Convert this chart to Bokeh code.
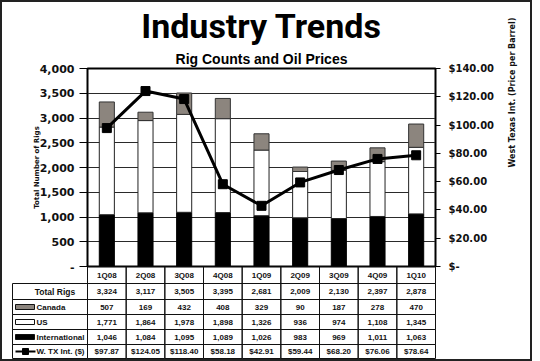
import numpy as np
from bokeh.plotting import figure
from bokeh.models import Range1d, LinearAxis, FixedTicker, NumeralTickFormatter, ColumnDataSource, Title
from bokeh.layouts import column
from bokeh.embed import file_html
from bokeh.resources import INLINE
from bokeh.core.properties import value

# ---------------- data ----------------
quarters = ["1Q08", "2Q08", "3Q08", "4Q08", "1Q09", "2Q09", "3Q09", "4Q09", "1Q10"]
international = [1046, 1084, 1095, 1089, 1026, 983, 969, 1011, 1063]
us = [1771, 1864, 1978, 1898, 1326, 936, 974, 1108, 1345]
canada = [507, 169, 432, 408, 329, 90, 187, 278, 470]
total_rigs = [3324, 3117, 3505, 3395, 2681, 2009, 2130, 2397, 2878]
wti = [97.87, 124.05, 118.40, 58.18, 42.91, 59.44, 68.20, 76.06, 78.64]
rig_ticks = [0, 500, 1000, 1500, 2000, 2500, 3000, 3500, 4000]
price_ticks = [0, 20, 40, 60, 80, 100, 120, 140]
row_labels = ["Total Rigs", "Canada", "US", "International", "W. TX Int. ($)"]

# ---------------- layout constants ----------------
W = 528
PL, PR = 85, 95
PT, PH, PB = 60, 196, 8
TH = 93
N = len(quarters)
GRAY = "#8c857e"
AXFONT = "DejaVu Sans"
TITLEFONT = "Roboto"
TABFONT = "Liberation Sans"


def try_set(obj, **kw):
    for k, v in kw.items():
        try:
            setattr(obj, k, v)
        except (AttributeError, ValueError):
            pass


x = list(range(N))
src = ColumnDataSource(dict(x=x, international=international, us=us, canada=canada, wti=wti))

# ---------------- main chart ----------------
# (the column layout shrinks this figure by the table's negative top margin)
p = figure(width=W, height=PT + PH + PB + PB, x_range=Range1d(-0.5, N - 0.5), y_range=Range1d(0, 4000),
           output_backend="svg", toolbar_location=None, x_axis_location=None,
           min_border_left=PL, min_border_right=PR, min_border_top=PT, min_border_bottom=PB)
try_set(p, frame_align=False)
p.outline_line_color = "black"
p.outline_line_width = 2
p.xgrid.visible = False
p.ygrid.ticker = FixedTicker(ticks=rig_ticks)
p.ygrid.grid_line_color = "#2a2a2a"
p.ygrid.grid_line_width = 1

p.add_layout(Title(text="Rig Counts and Oil Prices", align="center", text_font="Liberation Sans",
                   text_font_style="bold", text_font_size="14px", text_color="black",
                   standoff=4, offset=-5), "above")
p.add_layout(Title(text="Industry Trends", align="center", text_font=TITLEFONT,
                   text_font_style="bold", text_font_size="34px", text_color="black",
                   standoff=2, offset=-4), "above")

ya = p.yaxis[0]
ya.ticker = FixedTicker(ticks=rig_ticks)
ya.formatter = NumeralTickFormatter(format="0,0")
ya.major_label_overrides = {0: "-"}
ya.major_tick_out = 8
ya.major_tick_in = 0
ya.minor_tick_line_color = None
ya.axis_line_color = "black"
ya.major_label_standoff = 5
ya.major_label_text_font = AXFONT
ya.major_label_text_font_style = "bold"
ya.major_label_text_font_size = "11px"
ya.major_label_text_color = "#111"
ya.axis_label = "Total Number of Rigs"
ya.axis_label_standoff = -4
ya.axis_label_text_font = AXFONT
ya.axis_label_text_font_style = "bold"
ya.axis_label_text_font_size = "7px"
ya.axis_label_text_color = "#111"

p.extra_y_ranges = {"price": Range1d(0, 140)}
ra = LinearAxis(y_range_name="price", ticker=FixedTicker(ticks=price_ticks),
                formatter=NumeralTickFormatter(format="$0.00"))
ra.major_label_overrides = {0: "$-"}
ra.major_tick_out = 5
ra.major_tick_in = 0
ra.minor_tick_line_color = None
ra.axis_line_color = "black"
ra.major_label_standoff = 8
ra.major_label_text_font = AXFONT
ra.major_label_text_font_style = "bold"
ra.major_label_text_font_size = "10px"
ra.major_label_text_color = "#111"
ra.axis_label = "West Texas Int. (Price per Barrel)"
ra.axis_label_standoff = 15
ra.axis_label_text_font = AXFONT
ra.axis_label_text_font_style = "bold"
ra.axis_label_text_font_size = "8px"
ra.axis_label_text_color = "#111"
try_set(ra, axis_label_orientation=float(np.pi / 2))
p.add_layout(ra, "right")

p.vbar_stack(["international", "us", "canada"], x="x", width=0.39, source=src,
             fill_color=["black", "white", GRAY], line_color=["black", "#222", "#333"], line_width=1)
p.line("x", "wti", source=src, y_range_name="price", line_color="black", line_width=3)
p.scatter("x", "wti", source=src, y_range_name="price", marker="square", size=9,
          fill_color="black", line_color="black")

# ---------------- data table ----------------
PPU = (W - PL - PR) / N
xs0 = -0.5 - PL / PPU
xs1 = N - 0.5 + PR / PPU
t = figure(width=W, height=TH, x_range=Range1d(xs0, xs1), y_range=Range1d(TH, 0),
           output_backend="svg", toolbar_location=None, x_axis_location=None, y_axis_location=None,
           min_border=0, min_border_left=0, min_border_right=0, min_border_top=0, min_border_bottom=0,
           background_fill_color=None, border_fill_color=None,
           outline_line_color=None, margin=(-PB, 0, 0, 0))
try_set(t, frame_align=False)
t.grid.visible = False


def tx(px):
    return xs0 + px / PPU


row_top = [0, 17, 33, 48, 63, 78]
row_bot = [17, 33, 48, 63, 78, 92]
mid = [(a + b) / 2 for a, b in zip(row_top, row_bot)]

cl, cr, ct, cb = [], [], [], []
for r in range(6):
    for i in range(N):
        cl.append(i - 0.5); cr.append(i + 0.5); ct.append(row_top[r]); cb.append(row_bot[r])
for r in range(1, 6):
    cl.append(tx(10)); cr.append(-0.5); ct.append(row_top[r]); cb.append(row_bot[r])
t.quad(left=cl, right=cr, top=ct, bottom=cb, fill_color=None, line_color="#111", line_width=1)

rows_text = [quarters,
             [f"{v:,}" for v in total_rigs],
             [f"{v:,}" for v in canada],
             [f"{v:,}" for v in us],
             [f"{v:,}" for v in international],
             [f"${v:.2f}" for v in wti]]
txt_x, txt_y, txt = [], [], []
for r, vals in enumerate(rows_text):
    for i, s in enumerate(vals):
        txt_x.append(i); txt_y.append(mid[r]); txt.append(s)
t.text(x=txt_x, y=txt_y, text=txt, text_align="center", text_baseline="middle",
       text_font=value(TABFONT), text_font_style="bold", text_font_size="8px", text_color="#111")

t.text(x=[tx(52.5)], y=[mid[1]], text=[row_labels[0]], text_align="center", text_baseline="middle",
       text_font=value(TABFONT), text_font_style="bold", text_font_size="8.5px", text_color="#111")
t.text(x=[tx(34)] * 4, y=mid[2:6], text=row_labels[1:], text_align="left", text_baseline="middle",
       text_font=value(TABFONT), text_font_style="bold", text_font_size="8px", text_color="#111")

t.quad(left=[tx(13)] * 3, right=[tx(32)] * 3,
       top=[m - 2.5 for m in mid[2:5]], bottom=[m + 2.5 for m in mid[2:5]],
       fill_color=[GRAY, "white", "black"], line_color="#111", line_width=1)
t.line(x=[tx(13), tx(33)], y=[mid[5], mid[5]], line_color="black", line_width=2)
t.scatter(x=[tx(23)], y=[mid[5]], marker="square", size=6, fill_color="black", line_color="black")

layout = column(p, t, spacing=0, styles={"border": "2px solid #222", "background": "white"})

open("out.html", "w").write(file_html(layout, INLINE))
